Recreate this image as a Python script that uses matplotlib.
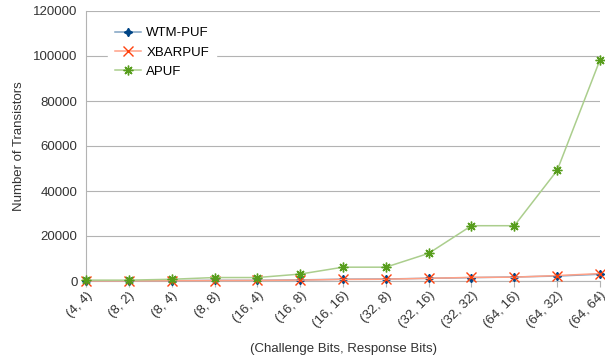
import matplotlib
matplotlib.use("Agg")
import matplotlib.pyplot as plt

categories = ["(4, 4)", "(8, 2)", "(8, 4)", "(8, 8)", "(16, 4)", "(16, 8)", "(16, 16)",
              "(32, 8)", "(32, 16)", "(32, 32)", "(64, 16)", "(64, 32)", "(64, 64)"]
wtm_puf = [100, 100, 150, 300, 300, 500, 800, 900, 1200, 1500, 1800, 2200, 3000]
xbar_puf = [50, 60, 120, 200, 250, 400, 700, 800, 1200, 1600, 1700, 2400, 3300]
apuf = [384, 384, 768, 1536, 1536, 3072, 6144, 6144, 12288, 24576, 24576, 49152, 98304]
yticks = [0, 20000, 40000, 60000, 80000, 100000, 120000]

plt.rcParams['font.family'] = ['Liberation Sans', 'DejaVu Sans']

fig = plt.figure(figsize=(6.05, 3.6), dpi=100)
ax = fig.add_axes([86/605, 1-281/360, (600-86)/605, (281-11)/360])

x = list(range(len(categories)))
series = [
    ("WTM-PUF", wtm_puf, "#004586", "#7fa2c2", (4, 1, 0), 6),
    ("XBARPUF", xbar_puf, "#ff420e", "#ffa086", "x", 7),
    ("APUF", apuf, "#579d1c", "#abce8d", (8, 2, 0), 7),
]
for name, vals, mc, lc, mk, ms in series:
    ax.plot(x, vals, color=lc, lw=1.1, marker=mk, markersize=ms,
            markerfacecolor=mc, markeredgecolor=mc, markeredgewidth=1.0,
            label=name, clip_on=False, zorder=3)

ax.set_xlim(0, len(categories) - 1)
ax.set_ylim(0, 120000)
ax.set_yticks(yticks)
ax.set_yticklabels([str(v) for v in yticks], fontsize=9.5, color="#333333")
ax.set_xticks(x)
ax.set_xticklabels(categories, rotation=45, ha="right", rotation_mode="anchor",
                   fontsize=9.5, color="#333333")
ax.tick_params(axis="x", length=4, color="#b3b3b3", pad=2)
ax.tick_params(axis="y", length=0, pad=6)
ax.grid(axis="y", color="#b3b3b3", lw=0.8)
ax.set_axisbelow(True)
for s in ["top", "right"]:
    ax.spines[s].set_visible(False)
ax.spines["left"].set_color("#b3b3b3")
ax.spines["bottom"].set_color("#b3b3b3")

ax.set_xlabel("(Challenge Bits, Response Bits)", fontsize=9.5, color="#333333", labelpad=9)
ax.set_ylabel("Number of Transistors", fontsize=9.5, color="#333333", labelpad=6)

leg = ax.legend(loc="upper left", bbox_to_anchor=(0.03, 0.99), frameon=True,
                fontsize=9.5, handlelength=2.0, handletextpad=0.4,
                labelspacing=0.55, borderpad=0.5)
leg.get_frame().set_facecolor("white")
leg.get_frame().set_edgecolor("white")
leg.get_frame().set_alpha(1)

fig.savefig("out.png", dpi=100)
